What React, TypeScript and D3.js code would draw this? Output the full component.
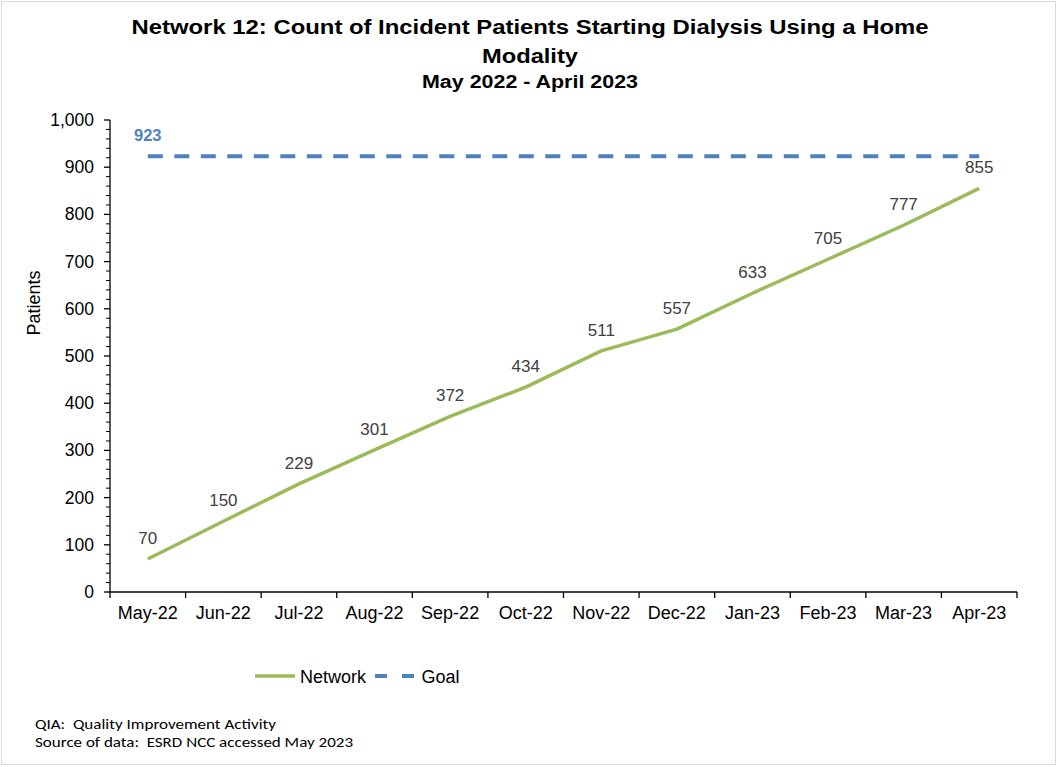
import React from "react";
import * as d3 from "d3";

const months = ["May-22","Jun-22","Jul-22","Aug-22","Sep-22","Oct-22","Nov-22","Dec-22","Jan-23","Feb-23","Mar-23","Apr-23"];
const network = [70,150,229,301,372,434,511,557,633,705,777,855];
const goalValue = 923;
const yTicks = [0,100,200,300,400,500,600,700,800,900,1000];

const W = 1059, H = 767;
const left = 110, right = 1017, top = 120, bottom = 592;

export default function App() {
  const x = d3.scaleBand<string>().domain(months).range([left, right]);
  const y = d3.scaleLinear().domain([0, 1000]).range([bottom, top]);
  const cx = (m: string) => (x(m) as number) + x.bandwidth() / 2;
  const line = d3.line<number>().x((_, i) => cx(months[i])).y(d => y(d));
  const minor = d3.range(0, 1001, 20).filter(v => v % 100 !== 0);
  const font = "Arial, 'Liberation Sans', sans-serif";
  const foot = "Carlito, Lato, 'Open Sans', sans-serif";
  return (
    <svg width={W} height={H} style={{ position: "absolute", left: 0, top: 0, display: "block", background: "#fff" }}>
      <rect x={1.5} y={1.5} width={1054} height={763} fill="#fff" stroke="#d9d9d9" />
      <g fontFamily={font} fontWeight="bold" textAnchor="middle" fill="#000">
        <text x={530} y={34} fontSize={20} textLength={797} lengthAdjust="spacingAndGlyphs">Network 12: Count of Incident Patients Starting Dialysis Using a Home</text>
        <text x={530} y={63} fontSize={20} textLength={96} lengthAdjust="spacingAndGlyphs">Modality</text>
        <text x={530} y={88} fontSize={18} textLength={216} lengthAdjust="spacingAndGlyphs">May 2022 - April 2023</text>
      </g>
      {/* y axis */}
      <line x1={left} x2={left} y1={top} y2={bottom} stroke="#000" strokeWidth={1.3} />
      {minor.map(v => (
        <line key={"m" + v} x1={left - 4} x2={left} y1={y(v)} y2={y(v)} stroke="#000" />
      ))}
      {yTicks.map(v => (
        <g key={v}>
          <line x1={left - 6} x2={left} y1={y(v)} y2={y(v)} stroke="#000" strokeWidth={1.3} />
          <text x={94} y={y(v) + 6} textAnchor="end" fontFamily={font} fontSize={17.5} fill="#000">{d3.format(",")(v)}</text>
        </g>
      ))}
      <text transform={`translate(40,${(top + bottom) / 2 - 53}) rotate(-90)`} textAnchor="middle" fontFamily={font} fontSize={18} fill="#000">Patients</text>
      {/* x axis */}
      <line x1={left} x2={right} y1={bottom} y2={bottom} stroke="#000" strokeWidth={1.3} />
      {months.map(m => (
        <line key={"t" + m} x1={x(m) as number} x2={x(m) as number} y1={bottom} y2={bottom + 6} stroke="#000" strokeWidth={1.3} />
      ))}
      <line x1={right} x2={right} y1={bottom} y2={bottom + 6} stroke="#000" strokeWidth={1.3} />
      {months.map(m => (
        <text key={"l" + m} x={cx(m)} y={619} textAnchor="middle" fontFamily={font} fontSize={18} fill="#000">{m}</text>
      ))}
      {/* goal */}
      <line x1={cx(months[0])} x2={cx(months[months.length - 1])} y1={y(goalValue)} y2={y(goalValue)} stroke="#4F81BD" strokeWidth={4} strokeDasharray="15 11.5" />
      <text x={cx(months[0])} y={y(goalValue) - 15} textAnchor="middle" fontFamily={font} fontSize={16.5} fontWeight="bold" fill="#4F81BD">{goalValue}</text>
      {/* network */}
      <path d={line(network) as string} fill="none" stroke="#9BBB59" strokeWidth={3.5} strokeLinejoin="round" />
      {network.map((v, i) => (
        <text key={"v" + i} x={cx(months[i])} y={y(v) - 15} textAnchor="middle" fontFamily={font} fontSize={17} fill="#404040">{v}</text>
      ))}
      {/* legend */}
      <line x1={255} x2={295} y1={676} y2={676} stroke="#9BBB59" strokeWidth={3.5} />
      <text x={300} y={683} fontFamily={font} fontSize={18} fill="#000">Network</text>
      <line x1={375} x2={416} y1={676} y2={676} stroke="#4F81BD" strokeWidth={4} strokeDasharray="12 15" />
      <text x={421.5} y={683} fontFamily={font} fontSize={18} fill="#000">Goal</text>
      {/* footnotes */}
      <g fontFamily={foot} fontSize={15} fill="#000" style={{ whiteSpace: "pre" }}>
        <text x={35} y={728.5} textLength={241} lengthAdjust="spacingAndGlyphs" xmlSpace="preserve">QIA:  Quality Improvement Activity</text>
        <text x={35} y={747} textLength={318} lengthAdjust="spacingAndGlyphs" xmlSpace="preserve">Source of data:  ESRD NCC accessed May 2023</text>
      </g>
    </svg>
  );
}
